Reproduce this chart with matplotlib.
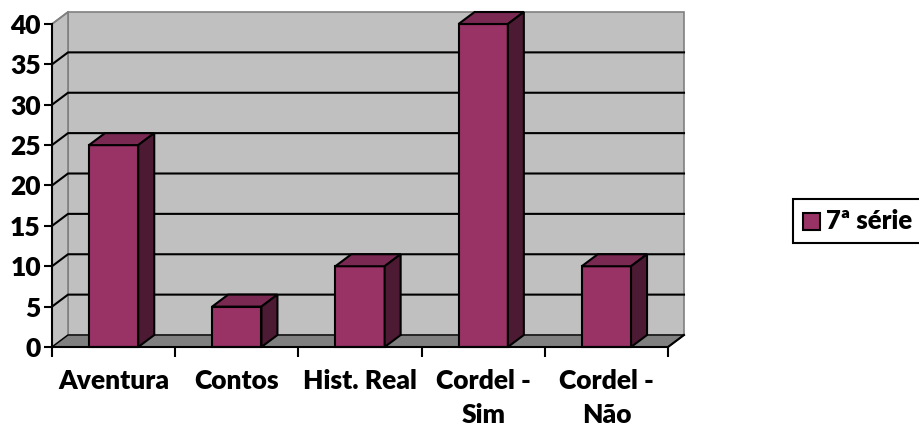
import matplotlib
matplotlib.use("Agg")
import matplotlib.pyplot as plt
from matplotlib.patches import Polygon, Rectangle

categories = ["Aventura", "Contos", "Hist. Real", "Cordel -\nSim", "Cordel -\nNão"]
values = [25, 5, 10, 40, 10]
yticks = [0, 5, 10, 15, 20, 25, 30, 35, 40]
series_name = "7ª série"

FRONT = "#993366"
TOP = "#7a2952"
SIDE = "#4d1a33"
WALL = "#c0c0c0"
FLOOR = "#808080"

W, H = 919, 428
fig = plt.figure(figsize=(W / 100, H / 100), dpi=100)
# front plane of the 3d box in pixels: x 52..668, y 347 (0) .. 24 (40)
ax = fig.add_axes([52 / W, (H - 347) / H, 616 / W, 323 / H])
n = len(categories)
ymax = yticks[-1]
ax.set_xlim(0, n)
ax.set_ylim(0, ymax)

# depth of the box, 16 px right and 12 px up, in data units
dx = 16 / 616 * n
dy = 12 / 323 * ymax


def poly(pts, fc, ec, lw=1.0, z=1):
    ax.add_patch(Polygon(pts, closed=True, facecolor=fc, edgecolor=ec,
                         linewidth=lw, zorder=z, clip_on=False))


# back wall, side wall, floor
poly([(dx, dy), (n + dx, dy), (n + dx, ymax + dy), (dx, ymax + dy)], WALL, "#808080", 1.2, 0)
poly([(0, 0), (dx, dy), (dx, ymax + dy), (0, ymax)], WALL, "#808080", 1.2, 0)
poly([(0, 0), (n, 0), (n + dx, dy), (dx, dy)], FLOOR, "black", 1.0, 1)

# gridlines on the walls
for t in yticks[1:-1]:
    ax.plot([0, dx, n + dx], [t, t + dy, t + dy], color="black", lw=1.5,
            zorder=1, clip_on=False)
ax.plot([0, dx], [ymax, ymax + dy], color="#808080", lw=1.2, zorder=1, clip_on=False)

# bars
bw = 0.4
for i, v in enumerate(values):
    x0 = i + 0.5 - bw / 2
    x1 = x0 + bw
    poly([(x0, 0), (x1, 0), (x1, v), (x0, v)], FRONT, "black", 1.5, 3)
    poly([(x0, v), (x1, v), (x1 + dx, v + dy), (x0 + dx, v + dy)], TOP, "black", 1.5, 3)
    poly([(x1, 0), (x1 + dx, dy), (x1 + dx, v + dy), (x1, v)], SIDE, "black", 1.5, 3)

# axes
for s in ["top", "right"]:
    ax.spines[s].set_visible(False)
for s in ["left", "bottom"]:
    ax.spines[s].set_linewidth(1.5)
    ax.spines[s].set_zorder(4)
ax.plot([n, n + dx], [0, dy], color="black", lw=1.5, zorder=4, clip_on=False)
ax.patch.set_visible(False)

font = dict(family=["Lato", "DejaVu Sans"], weight="heavy", size=19)
ax.set_yticks(yticks)
ax.set_yticklabels([str(t) for t in yticks], fontdict=font)
ax.tick_params(axis="y", direction="out", length=6, width=1.5, pad=2)

ax.set_xticks(range(n + 1))
ax.set_xticklabels([""] * (n + 1))
ax.tick_params(axis="x", which="major", direction="out", length=7, width=1.5)
ax.set_xticks([i + 0.5 for i in range(n)], minor=True)
ax.set_xticklabels(categories, minor=True, fontdict=font, linespacing=1.5, va="top")
ax.tick_params(axis="x", which="minor", length=0, pad=16)

# legend box, cut at the right edge like the original
fig.patches.append(Rectangle((793 / W, (H - 243) / H), 140 / W, 44 / H,
                             transform=fig.transFigure, facecolor="white",
                             edgecolor="black", linewidth=1.5))
fig.patches.append(Rectangle((803 / W, (H - 230) / H), 17 / W, 17 / H,
                             transform=fig.transFigure, facecolor=FRONT,
                             edgecolor="black", linewidth=1.5))
fig.text(826 / W, (H - 229) / H, series_name, va="baseline", ha="left",
         family=["Lato", "DejaVu Sans"], weight="heavy", size=18.5)

fig.savefig("out.png", dpi=100)
